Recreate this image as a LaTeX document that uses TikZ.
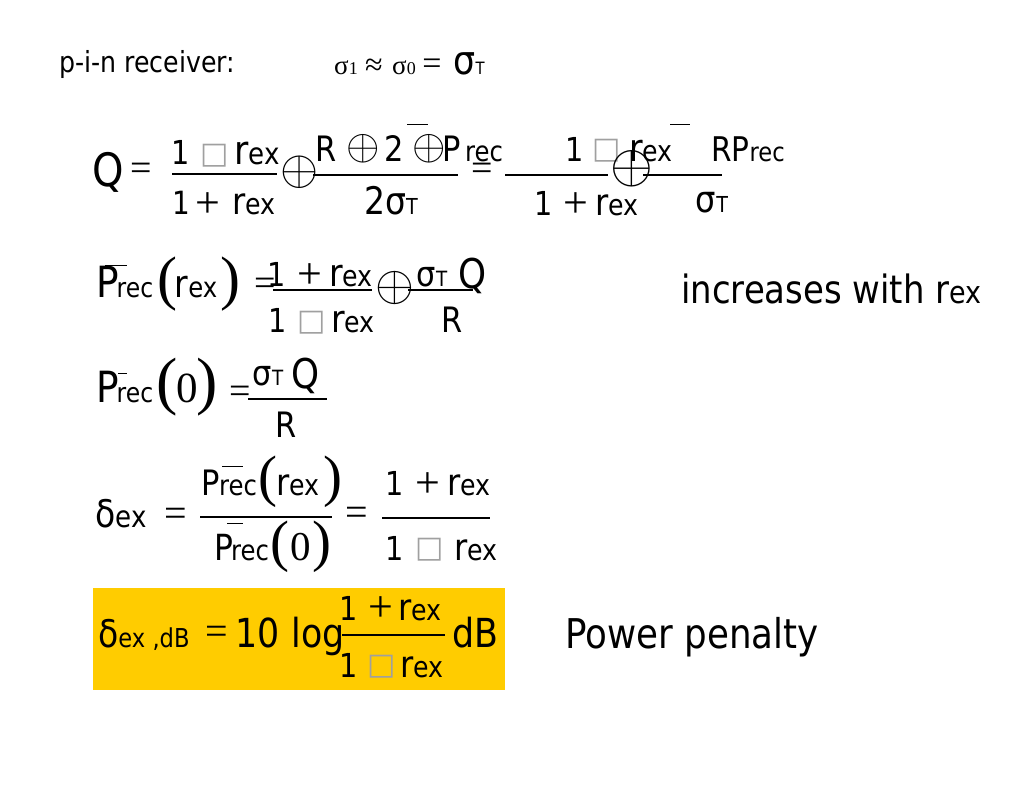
\documentclass[tikz,border=0pt]{standalone}
\usepackage{graphicx}
\usepackage{fontspec}
\setmainfont[FakeStretch=0.87]{DejaVu Sans}
\newfontfamily\tmf{Liberation Serif}
\newfontfamily\djf{DejaVu Sans}
\newcommand\Fz[1]{\fontsize{#1}{#1}\selectfont}
\newcommand\Op[1]{\scalebox{#1}{$\oplus$}}
\definecolor{gold}{RGB}{255,204,0}
\definecolor{boxgray}{RGB}{160,160,160}
\begin{document}
\begin{tikzpicture}[x=1pt,y=-1pt,
  t/.style={anchor=base,inner sep=0pt},
  c/.style={anchor=center,inner sep=0pt},
  bar/.style={line width=1.1pt},
  ovl/.style={line width=1pt}]
\fill[white] (0,0) rectangle (1024,791);
\useasboundingbox (0,0) rectangle (1024,791);
% header
\node[t] (hd) at (147,73) {\Fz{29}p-i-n receiver:};
\node[t] (sa) at (346,75) {\tmf\Fz{27}σ\Fz{18}1};
\node[c] (sb) at (374,67) {\tmf\Fz{32}≈};
\node[t] (sc) at (404,75) {\tmf\Fz{27}σ\Fz{18}0};
\node[c] (sd) at (432,67) {\tmf\Fz{34}=};
\node[t] (se) at (469,75) {\Fz{40}σ\Fz{17}T};
% row 1
\node[t] (Q) at (108,187) {\Fz{46}Q};
\node[c] (eq1) at (141,172) {\tmf\Fz{38}=};
\node[t] (a1) at (181,165) {\Fz{33}1};
\node[c] (a2) at (215,156) {\djf\Fz{30}\color{boxgray}□};
\node[t] (a3) at (257,165) {\Fz{40}r\Fz{30}ex};
\draw[bar] (172,174) -- (277,174);
\node[t] (b1) at (181,215) {\Fz{32}1};
\node[c] (b2) at (208,205) {\tmf\Fz{44}+};
\node[t] (b3) at (254,215) {\Fz{37}r\Fz{29}ex};
\node[c] (o1) at (300,172) {\Op{4.9}};
\node[t] (c1) at (326,162) {\Fz{35}R};
\node[c] (o2) at (363,149) {\Op{4.3}};
\node[t] (c2) at (394,162) {\Fz{35}2};
\draw[ovl] (407,125) -- (428,125);
\node[c] (o3) at (429,149) {\Op{4.3}};
\node[t] (c3) at (452,162) {\Fz{35}P};
\node[t] (c4) at (484,162) {\Fz{28}rec};
\draw[bar] (313,175) -- (458,175);
\node[t] (d1) at (391,215) {\Fz{38}2σ\Fz{22}T};
\node[c] (eq2) at (482,172) {\tmf\Fz{38}=};
\draw[bar] (505,175) -- (608,175);
\node[t] (e1) at (575,162) {\Fz{33}1};
\node[c] (e2) at (607,151) {\djf\Fz{30}\color{boxgray}□};
\node[t] (e3) at (651,162) {\Fz{38}r\Fz{29}ex};
\draw[ovl] (670,125) -- (690,125);
\node[c] (o4) at (632,169) {\Op{5.5}};
\draw[bar] (643,175) -- (722,175);
\node[t] (e4) at (748,162) {\Fz{34}RP\Fz{26}rec};
\node[t] (f1) at (544,216) {\Fz{33}1};
\node[c] (f2) at (576,205) {\tmf\Fz{44}+};
\node[t] (f3) at (617,216) {\Fz{37}r\Fz{29}ex};
\node[t] (f4) at (712,213) {\Fz{37}σ\Fz{22}T};
% row 2
\node[t] (g1) at (108,298) {\Fz{43}P};
\draw[ovl] (105,266) -- (127,266);
\node[t] (g2) at (135,298) {\Fz{27}rec};
\node[c] (g3) at (167,284) {\tmf\Fz{60}(};
\node[t] (g4) at (196,298) {\Fz{38}r\Fz{28}ex};
\node[c] (g5) at (230,284) {\tmf\Fz{60})};
\node[c] (eq3) at (265,287) {\tmf\Fz{38}=};
\node[t] (h1) at (277,287) {\Fz{33}1};
\node[c] (h2) at (310,276) {\tmf\Fz{44}+};
\node[t] (h3) at (351,287) {\Fz{38}r\Fz{29}ex};
\draw[bar] (273,290) -- (372,290);
\node[t] (i1) at (278,332) {\Fz{33}1};
\node[c] (i2) at (312,323) {\djf\Fz{30}\color{boxgray}□};
\node[t] (i3) at (353,332) {\Fz{38}r\Fz{29}ex};
\node[c] (o5) at (395,288) {\Op{5.0}};
\node[t] (j1) at (432,287) {\Fz{35}σ\Fz{21}T};
\node[t] (j2) at (473,289) {\Fz{41}Q};
\draw[bar] (408,290) -- (473,290);
\node[t] (j3) at (452,332) {\Fz{35}R};
\node[anchor=base west,inner sep=0pt] (inc) at (681,303) {\Fz{39}increases with r\Fz{31}ex};
% row 3
\node[t] (k1) at (108,402) {\Fz{43}P};
\draw[ovl] (118,373) -- (127,373);
\node[t] (k2) at (135,402) {\Fz{27}rec};
\node[c] (k3) at (167,387) {\tmf\Fz{64}(};
\node[t] (k4) at (187,402) {\tmf\Fz{43}0};
\node[c] (k5) at (207,387) {\tmf\Fz{64})};
\node[c] (eq4) at (240,395) {\tmf\Fz{38}=};
\node[t] (l1) at (268,385) {\Fz{35}σ\Fz{21}T};
\node[t] (l2) at (306,388) {\Fz{41}Q};
\draw[bar] (248,399) -- (327,399);
\node[t] (l3) at (286,437) {\Fz{35}R};
% row 4
\node[t] (m1) at (121,527) {\Fz{38}δ\Fz{30}ex};
\node[c] (eq5) at (176,517) {\tmf\Fz{40}=};
\node[t] (n1) at (211,495) {\Fz{35}P};
\draw[ovl] (222,466) -- (243,466);
\node[t] (n2) at (238,495) {\Fz{28}rec};
\node[c] (n3) at (268,482) {\tmf\Fz{57}(};
\node[t] (n4) at (298,495) {\Fz{37}r\Fz{29}ex};
\node[c] (n5) at (333,482) {\tmf\Fz{57})};
\draw[bar] (200,517) -- (332,517);
\draw[ovl] (227,523) -- (243,523);
\node[t] (p1) at (224,560) {\Fz{36}P};
\node[t] (p2) at (250,560) {\Fz{28}rec};
\node[c] (p3) at (280,547) {\tmf\Fz{57}(};
\node[t] (p4) at (301,560) {\tmf\Fz{41}0};
\node[c] (p5) at (322,547) {\tmf\Fz{57})};
\node[c] (eq6) at (357,516) {\tmf\Fz{40}=};
\node[t] (q1) at (395,495) {\Fz{33}1};
\node[c] (q2) at (428,485) {\tmf\Fz{44}+};
\node[t] (q3) at (469,495) {\Fz{37}r\Fz{29}ex};
\draw[bar] (382,518) -- (490,518);
\node[t] (r1) at (395,560) {\Fz{33}1};
\node[c] (r2) at (430,550) {\djf\Fz{30}\color{boxgray}□};
\node[t] (r3) at (476,560) {\Fz{37}r\Fz{29}ex};
% row 5
\fill[gold] (93,588) rectangle (505,690);
\node[anchor=base west,inner sep=0pt] (s1) at (98,647) {\Fz{38}δ\Fz{26}ex ,dB};
\node[c] (eq7) at (217,635) {\tmf\Fz{40}=};
\node[t] (s2) at (258,647) {\Fz{40}10};
\node[t] (s3) at (318,647) {\Fz{40}log};
\node[t] (s4) at (349,620) {\Fz{33}1};
\node[c] (s5) at (381,609) {\tmf\Fz{44}+};
\node[t] (s6) at (420,620) {\Fz{37}r\Fz{29}ex};
\draw[bar] (342,635) -- (445,635);
\node[t] (s7) at (349,677) {\Fz{33}1};
\node[c] (s8) at (382,667) {\djf\Fz{30}\color{boxgray}□};
\node[t] (s9) at (422,677) {\Fz{37}r\Fz{29}ex};
\node[t] (s10) at (475,647) {\Fz{40}dB};
\node[t] (pp) at (692,648) {\Fz{41}Power penalty};
\end{tikzpicture}
\end{document}
